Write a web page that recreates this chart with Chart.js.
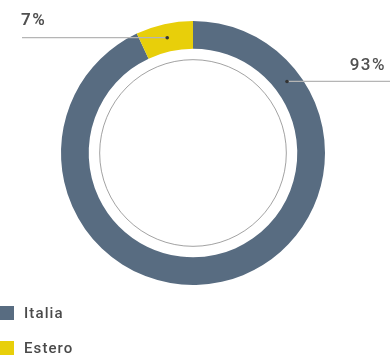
<!DOCTYPE html>
<html>
<head>
<meta charset="utf-8">
<script src="https://cdn.jsdelivr.net/npm/chart.js@4.4.1/dist/chart.umd.min.js"></script>
<style>
  html, body { margin: 0; padding: 0; background: #fff; }
  #wrap { position: relative; width: 390px; height: 355px; }
  #legend { position: absolute; left: 0; top: 304px; font-family: Roboto, 'Noto Sans', sans-serif; }
  .item { display: flex; align-items: center; height: 18px; margin-bottom: 17px; font-size: 15px; font-weight: 500; color: #4a4a4a; letter-spacing: 1.1px; }
  .box { width: 14px; height: 14px; margin-right: 10px; }
</style>
</head>
<body>
<div id="wrap">
  <canvas id="donut" width="390" height="355"></canvas>
  <div id="legend"></div>
</div>
<script>
// ---------- Data ----------
const labels = ['Italia', 'Estero'];
const values = [93, 7];
const valueLabels = ['93%', '7%'];
const colors = ['#586c81', '#e8cf0a'];

// ---------- Legend ----------
const legendEl = document.getElementById('legend');
labels.forEach((l, i) => {
  const row = document.createElement('div');
  row.className = 'item';
  row.innerHTML = '<span class="box" style="background:' + colors[i] + '"></span>' + l;
  legendEl.appendChild(row);
});

// ---------- Callouts + inner ring ----------
const calloutPlugin = {
  id: 'callouts',
  afterDatasetsDraw(chart) {
    const ctx = chart.ctx;
    const meta = chart.getDatasetMeta(0);
    const arcs = meta.data;
    const a0 = arcs[0];
    const cx = a0.x, cy = a0.y;
    const outer = a0.outerRadius, inner = a0.innerRadius;
    const mid = (outer + inner) / 2;

    // thin inner circle
    ctx.save();
    ctx.beginPath();
    ctx.arc(cx, cy, inner * 0.895, 0, Math.PI * 2);
    ctx.strokeStyle = '#8a8a8a';
    ctx.lineWidth = 0.8;
    ctx.stroke();
    ctx.restore();

    // anchor angles: Italia near upper right, Estero at its own arc middle
    const anchors = [
      { angle: a0.startAngle + 0.92, lineTo: chart.width, textX: chart.width - 4, align: 'right', dy: -16 },
      { angle: (arcs[1].startAngle + arcs[1].endAngle) / 2, lineTo: 22, textX: 21, align: 'left', dy: -17 }
    ];
    anchors.forEach((a, i) => {
      const px = cx + Math.cos(a.angle) * mid;
      const py = cy + Math.sin(a.angle) * mid;
      ctx.save();
      ctx.strokeStyle = '#b5b5b5';
      ctx.lineWidth = 1.2;
      ctx.beginPath();
      ctx.moveTo(px, py);
      ctx.lineTo(a.lineTo, py);
      ctx.stroke();
      ctx.fillStyle = '#333';
      ctx.beginPath();
      ctx.arc(px, py, 1.8, 0, Math.PI * 2);
      ctx.fill();
      ctx.fillStyle = '#505050';
      ctx.font = (i === 1 ? '600 ' : '500 ') + '17px Roboto, sans-serif';
      ctx.letterSpacing = '1.5px';
      ctx.textAlign = a.align;
      ctx.textBaseline = 'middle';
      ctx.fillText(valueLabels[i], a.textX, py + a.dy);
      ctx.restore();
    });
  }
};

new Chart(document.getElementById('donut').getContext('2d'), {
  type: 'doughnut',
  data: {
    labels,
    datasets: [{
      data: values,
      backgroundColor: colors,
      borderWidth: 0
    }]
  },
  options: {
    responsive: false,
    animation: false,
    cutout: '79%',
    layout: { padding: { top: 21, bottom: 70, left: 61, right: 65 } },
    plugins: {
      legend: { display: false },
      tooltip: { enabled: false }
    }
  },
  plugins: [calloutPlugin]
});
</script>
</body>
</html>
